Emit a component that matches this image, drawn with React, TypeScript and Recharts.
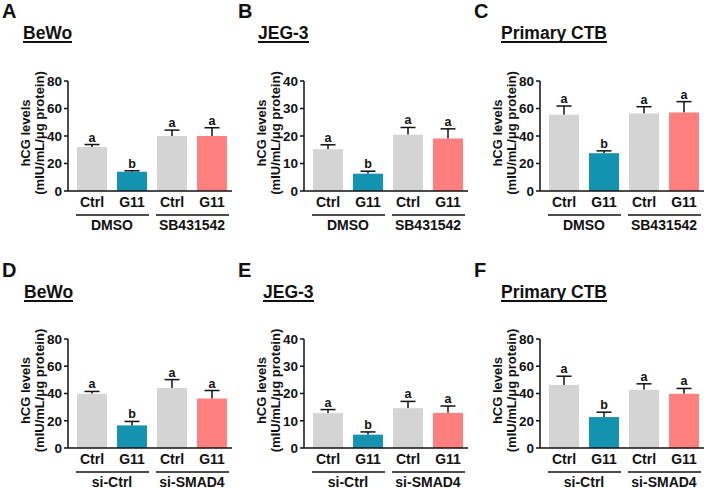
import { ComposedChart, Bar, XAxis, YAxis } from 'recharts'

const xLabels = ['Ctrl', 'G11', 'Ctrl', 'G11']
const inhibGroups = ['DMSO', 'DMSO', 'SB431542', 'SB431542']
const siGroups = ['si-Ctrl', 'si-Ctrl', 'si-SMAD4', 'si-SMAD4']
const sigLetters = ['a', 'b', 'a', 'a']

const bewoInhib = [32, 14, 40, 40]
const bewoInhibErr = [1.8, 0.7, 4.3, 6]
const jegInhib = [15.2, 6.3, 20.5, 19.1]
const jegInhibErr = [1.6, 0.9, 2.6, 3.5]
const ctbInhib = [55.4, 27.5, 56.4, 57.1]
const ctbInhibErr = [6.4, 1.7, 4.9, 7.9]

const bewoSi = [39.8, 16.6, 44.1, 36.3]
const bewoSiErr = [1.7, 2.9, 6.1, 5.9]
const jegSi = [12.8, 4.9, 14.6, 12.9]
const jegSiErr = [1.3, 1.0, 2.5, 2.5]
const ctbSi = [46.3, 22.7, 42.7, 39.8]
const ctbSiErr = [6.4, 3.6, 4.4, 3.9]

const yTicks80 = [0, 20, 40, 60, 80]
const yTicks40 = [0, 10, 20, 30, 40]

const panelLetters = ['A', 'B', 'C', 'D', 'E', 'F']
const panelTitles = ['BeWo', 'JEG-3', 'Primary CTB', 'BeWo', 'JEG-3', 'Primary CTB']

const barColors = ['#d4d4d4', '#1493b0', '#d4d4d4', '#ff7f7f']
const FONT = 'Arial, "Liberation Sans", sans-serif'

type Row = { id: string; label: string; group: string; value: number; err: number; sig: string; color: string }

const buildRows = (values: number[], errs: number[], groups: string[]): Row[] =>
  values.map((v, i) => ({
    id: groups[i] + '|' + xLabels[i],
    label: xLabels[i],
    group: groups[i],
    value: v,
    err: errs[i],
    sig: sigLetters[i],
    color: barColors[i],
  }))

const BarWithError = (props: any) => {
  const { x, y, width, height, payload } = props
  const pxPerUnit = height / payload.value
  const errTop = y - payload.err * pxPerUnit
  const cx = x + width / 2
  return (
    <g>
      <line x1={cx} x2={cx} y1={y} y2={errTop} stroke="#111" strokeWidth={1.5} />
      <line x1={cx - 7.5} x2={cx + 7.5} y1={errTop} y2={errTop} stroke="#111" strokeWidth={1.5} />
      <rect x={x} y={y} width={width} height={height} fill={payload.color} />
      <text x={cx} y={errTop - 3} textAnchor="middle" fontSize={12.5} fontWeight="bold" fontFamily={FONT} fill="#111">
        {payload.sig}
      </text>
    </g>
  )
}

const GroupTick = (props: any) => {
  const { x, y, payload } = props
  return (
    <g>
      <line x1={x - 36} x2={x + 37} y1={y + 2} y2={y + 2} stroke="#111" strokeWidth={1.5} />
      <text x={x} y={y + 16.5} textAnchor="middle" fontSize={14} fontWeight="bold" fontFamily={FONT} fill="#111">
        {payload.value}
      </text>
    </g>
  )
}

type PanelProps = {
  idx: number
  left: number
  top: number
  plotTop: number
  plotH: number
  titleX: number
  titleTop: number
  letterY: number
  rows: Row[]
  ticks: number[]
}

function Panel({ idx, left, top, plotTop, plotH, titleX, titleTop, letterY, rows, ticks }: PanelProps) {
  const height = plotTop + plotH + 52 + 2
  const plotMid = top + plotTop + plotH / 2 - 3
  return (
    <>
      <div style={{ position: 'absolute', left, top, width: 236, height }}>
        <ComposedChart
          width={236}
          height={height}
          data={rows}
          margin={{ top: plotTop, right: 4, bottom: 2, left: 28 }}
          barSize={30}
        >
          <XAxis
            dataKey="id"
            tickFormatter={(v: string) => v.split('|')[1]}
            padding={{ left: 4, right: 0 }}
            height={22}
            tickSize={0}
            tickMargin={6}
            interval={0}
            stroke="#111"
            strokeWidth={1.5}
            tick={{ fontSize: 14, fontWeight: 'bold', fontFamily: FONT, fill: '#111' }}
          />
          <XAxis
            xAxisId="grp"
            dataKey="group"
            allowDuplicatedCategory={false}
            padding={{ left: 4, right: 0 }}
            height={30}
            axisLine={false}
            tickLine={false}
            tickSize={0}
            tickMargin={0}
            interval={0}
            tick={<GroupTick />}
          />
          <YAxis
            width={40}
            domain={[0, ticks[ticks.length - 1]]}
            ticks={ticks}
            interval={0}
            tickSize={4}
            tickMargin={2}
            stroke="#111"
            strokeWidth={1.5}
            tick={{ fontSize: 13.5, fontWeight: 'bold', fontFamily: FONT, fill: '#111' }}
          />
          <Bar dataKey="value" shape={<BarWithError />} isAnimationActive={false} />
        </ComposedChart>
      </div>
      <div
        style={{
          position: 'absolute',
          left: left + 2,
          top: top + letterY - 16,
          fontFamily: FONT,
          fontWeight: 'bold',
          fontSize: 20,
          lineHeight: '20px',
          color: '#111',
        }}
      >
        {panelLetters[idx]}
      </div>
      <div
        style={{
          position: 'absolute',
          left: left + titleX,
          top: titleTop,
          display: 'inline-block',
          fontFamily: FONT,
          fontWeight: 'bold',
          fontSize: 17.5,
          lineHeight: '16px',
          color: '#111',
          borderBottom: '2px solid #111',
          whiteSpace: 'nowrap',
        }}
      >
        {panelTitles[idx]}
      </div>
      <svg style={{ position: 'absolute', left, top: 0, overflow: 'visible' }} width={60} height={488}>
        <text
          transform={`translate(25, ${plotMid}) rotate(-90)`}
          textAnchor="middle"
          dy="0.35em"
          fontSize={13}
          fontWeight="bold"
          fontFamily={FONT}
          fill="#111"
        >
          hCG levels
        </text>
        <text
          transform={`translate(39, ${plotMid}) rotate(-90)`}
          textAnchor="middle"
          dy="0.35em"
          fontSize={13}
          fontWeight="bold"
          fontFamily={FONT}
          fill="#111"
        >
          (mIU/mL/μg protein)
        </text>
      </svg>
    </>
  )
}

const panelRows = [
  buildRows(bewoInhib, bewoInhibErr, inhibGroups),
  buildRows(jegInhib, jegInhibErr, inhibGroups),
  buildRows(ctbInhib, ctbInhibErr, inhibGroups),
  buildRows(bewoSi, bewoSiErr, siGroups),
  buildRows(jegSi, jegSiErr, siGroups),
  buildRows(ctbSi, ctbSiErr, siGroups),
]
const panelTicks = [yTicks80, yTicks40, yTicks80, yTicks80, yTicks40, yTicks80]
const titleOffsets = [23, 22, 29, 24, 27, 29]

export default function App() {
  return (
    <div
      style={{
        position: 'absolute',
        left: 0,
        top: 0,
        width: 708,
        height: 488,
        overflow: 'hidden',
        background: '#fff',
      }}
    >
      {panelRows.map((rows, i) => {
        const row = Math.floor(i / 3)
        const col = i % 3
        return (
          <Panel
            key={i}
            idx={i}
            left={col * 236}
            top={row === 0 ? 0 : 244}
            plotTop={row === 0 ? 81 : 95}
            plotH={row === 0 ? 110 : 109}
            titleX={titleOffsets[i]}
            titleTop={row === 0 ? 25 : 283.5}
            letterY={row === 0 ? 17 : 32}
            rows={rows}
            ticks={panelTicks[i]}
          />
        )
      })}
    </div>
  )
}
